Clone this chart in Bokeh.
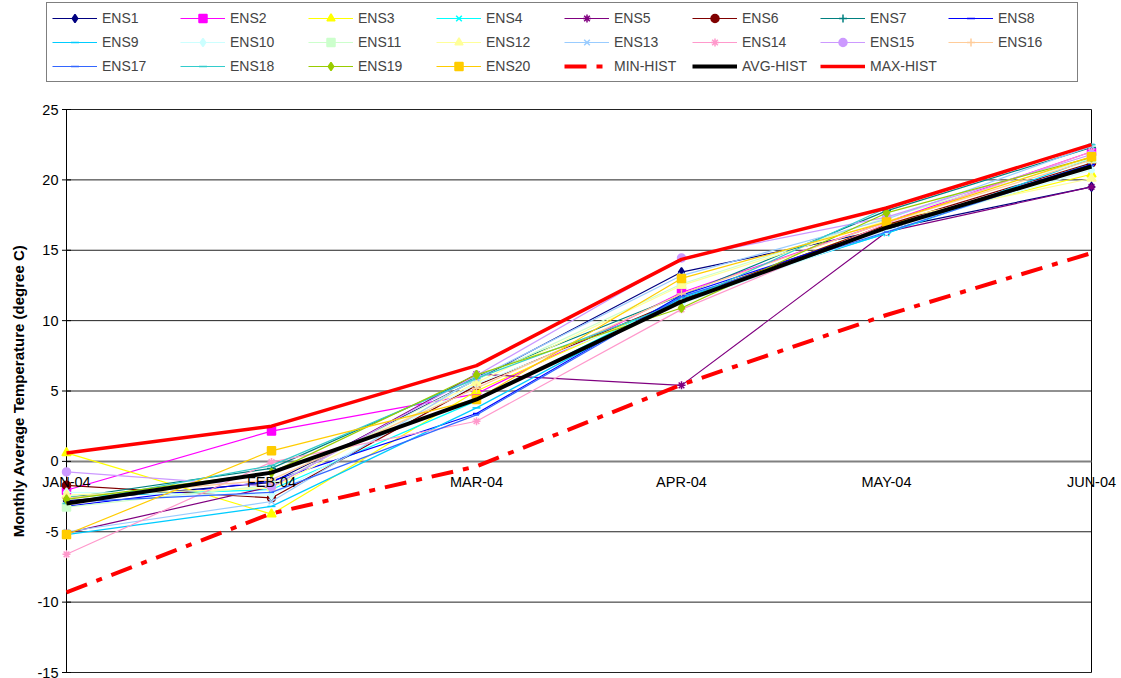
import math
from bokeh.plotting import figure
from bokeh.models import Range1d, Legend, LegendItem, LabelSet, Label, ColumnDataSource
from bokeh.core.properties import value
from bokeh.embed import file_html
from bokeh.resources import INLINE

months = ["JAN-04", "FEB-04", "MAR-04", "APR-04", "MAY-04", "JUN-04"]

ens1 = [-2.8, -1.5, 5.8, 13.45, 16.5, 19.5]
ens2 = [-2.05, 2.15, 4.8, 12.0, 17.0, 22.0]
ens3 = [0.6, -3.75, 5.0, 11.55, 16.8, 20.4]
ens4 = [-2.5, -2.0, 4.3, 11.7, 16.2, 21.2]
ens5 = [-5.1, -1.8, 6.2, 5.4, 16.3, 19.5]
ens6 = [-1.7, -2.6, 5.4, 11.5, 16.8, 21.2]
ens7 = [-2.6, -0.5, 6.0, 11.8, 17.8, 22.3]
ens8 = [-3.2, -1.4, 3.4, 11.8, 16.6, 21.1]
ens9 = [-5.2, -3.2, 3.8, 11.6, 16.2, 21.5]
ens10 = [-2.2, -2.4, 5.5, 11.2, 16.4, 20.7]
ens11 = [-3.25, -1.7, 5.8, 12.6, 17.3, 21.5]
ens12 = [-2.4, -1.9, 5.6, 12.5, 17.1, 20.1]
ens13 = [-5.0, -2.85, 5.9, 13.2, 17.2, 22.4]
ens14 = [-6.6, -0.05, 2.85, 10.8, 16.9, 22.0]
ens15 = [-0.75, -1.8, 6.1, 14.45, 17.35, 21.8]
ens16 = [-2.6, -1.3, 5.2, 11.9, 17.0, 21.4]
ens17 = [-2.9, -2.2, 3.3, 11.7, 16.3, 21.0]
ens18 = [-3.0, -0.3, 5.9, 11.3, 18.0, 22.5]
ens19 = [-2.7, -0.8, 6.15, 10.9, 17.65, 21.6]
ens20 = [-5.2, 0.75, 4.4, 13.0, 17.0, 21.65]
min_hist = [-9.3, -3.7, -0.35, 5.45, 10.4, 14.8]
avg_hist = [-3.0, -0.8, 4.4, 11.35, 16.6, 20.95]
max_hist = [0.6, 2.5, 6.8, 14.35, 18.0, 22.5]

y_ticks = [-15, -10, -5, 0, 5, 10, 15, 20, 25]
y_title = "Monthly Average Temperature (degree C)"

ens_names = ["ENS%d" % i for i in range(1, 21)]
ens_values = [ens1, ens2, ens3, ens4, ens5, ens6, ens7, ens8, ens9, ens10,
              ens11, ens12, ens13, ens14, ens15, ens16, ens17, ens18, ens19, ens20]

colors = ["#000080", "#FF00FF", "#FFFF00", "#00FFFF", "#800080", "#800000", "#008080", "#0000FF",
          "#00CCFF", "#CCFFFF", "#CCFFCC", "#FFFF99", "#99CCFF", "#FF99CC", "#CC99FF", "#FFCC99",
          "#3366FF", "#33CCCC", "#99CC00", "#FFCC00"]
markers = ["diamond", "square", "triangle", "x", "asterisk", "circle", "cross", "dash",
           "dash", "diamond", "square", "triangle", "x", "asterisk", "circle", "cross",
           "dash", "dash", "diamond", "square"]
msizes = [9, 8, 9, 8, 8, 8, 9, 7, 8, 9, 8, 9, 8, 8, 8, 9, 5, 8, 9, 8]

FONT = "Liberation Sans"
xs = list(range(len(months)))
n = len(months) - 1

W, H = 1121, 678
# plot area in pixels: left 66, right 1091, top 109, bottom 672
PL, PR, PT, PB = 66, 1091, 109, 672
ux = (PR - PL) / n
uy = (PB - PT) / (y_ticks[-1] - y_ticks[0])
x_range = Range1d(-PL / ux, n + (W - PR) / ux)
y_range = Range1d(y_ticks[0] - (H - PB) / uy, y_ticks[-1] + PT / uy)

p = figure(width=W, height=H, output_backend="svg", toolbar_location=None,
           x_range=x_range, y_range=y_range,
           x_axis_location=None, y_axis_location=None,
           min_border=0, min_border_left=0, min_border_right=0,
           min_border_top=0, min_border_bottom=0)
p.background_fill_color = "white"
p.border_fill_color = "white"
p.outline_line_color = None
p.xgrid.visible = False
p.ygrid.visible = False

# gridlines and plot-area border, between first and last category
grid_y = [t for t in y_ticks if t != 0]
p.segment(x0=[xs[0]] * len(grid_y), x1=[xs[-1]] * len(grid_y), y0=grid_y, y1=grid_y,
          line_color="#222222", line_width=1)
p.segment(x0=[xs[-1]], x1=[xs[-1]], y0=[y_ticks[0]], y1=[y_ticks[-1]],
          line_color="black", line_width=1)
# category axis crossing at zero
p.segment(x0=[xs[0]], x1=[xs[-1]], y0=[0], y1=[0], line_color="#808080", line_width=2)
# value axis
p.segment(x0=[xs[0]], x1=[xs[0]], y0=[y_ticks[0]], y1=[y_ticks[-1]],
          line_color="black", line_width=1)
p.scatter(x=[xs[0]] * len(y_ticks), y=y_ticks, marker="dash", size=9,
          line_color="black", line_width=1)

ysrc = ColumnDataSource(dict(x=[xs[0]] * len(y_ticks), y=y_ticks, text=[str(t) for t in y_ticks]))
p.add_layout(LabelSet(x="x", y="y", text="text", source=ysrc, text_align="right",
                      text_baseline="middle", x_offset=-8, text_font=value(FONT),
                      text_font_size="14.5px", text_color="black"))

xsrc = ColumnDataSource(dict(x=xs, y=[0] * len(months), text=months))
p.add_layout(LabelSet(x="x", y="y", text="text", source=xsrc, text_align="center",
                      text_baseline="middle", y_offset=-21, text_font=value(FONT),
                      text_font_size="14.5px", text_color="black"))

p.add_layout(Label(x=18, y=H - (PT + PB) / 2, x_units="screen", y_units="screen",
                   text=y_title, angle=math.pi / 2, text_align="center", text_baseline="middle",
                   text_font=FONT, text_font_size="15px", text_font_style="bold",
                   text_color="black"))

items = []
for name, vals, c, m, s in zip(ens_names, ens_values, colors, markers, msizes):
    r1 = p.line(xs, vals, line_color=c, line_width=1.2)
    r2 = p.scatter(xs, vals, marker=m, size=s, line_color=c, fill_color=c, line_width=1.5)
    items.append(LegendItem(label=name, renderers=[r1, r2]))

r_min = p.line(xs, min_hist, line_color="#FF0000", line_width=4, line_dash="22 10 6 10")
r_avg = p.line(xs, avg_hist, line_color="black", line_width=4)
r_max = p.line(xs, max_hist, line_color="#FF0000", line_width=3.5)
items.append(LegendItem(label="MIN-HIST", renderers=[r_min]))
items.append(LegendItem(label="AVG-HIST", renderers=[r_avg]))
items.append(LegendItem(label="MAX-HIST", renderers=[r_max]))

legend = Legend(items=items, location=(46, H - 82), orientation="horizontal", ncols=8,
                glyph_width=45, glyph_height=20, label_height=20, label_width=74,
                label_standoff=5, spacing=4, padding=5, margin=0,
                label_text_font=FONT, label_text_font_size="14px",
                border_line_color="black", border_line_width=1,
                background_fill_color="white", background_fill_alpha=1)
p.add_layout(legend, "center")

open("out.html", "w").write(file_html(p, INLINE))
